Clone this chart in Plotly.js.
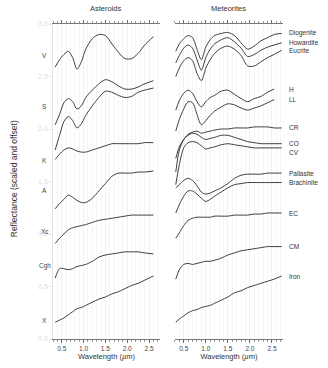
<!DOCTYPE html>
<html>
<head>
<meta charset="utf-8">
<script src="https://cdn.plot.ly/plotly-3.0.1.min.js"></script>
<style>
  html, body { margin: 0; padding: 0; background: #fff; }
  #plot { width: 328px; height: 368px; }
</style>
</head>
<body>
<div id="plot"></div>
<script>
// Wavelength grids (micron) for each panel
const asteroidWavelength = [0.35, 0.45, 0.55, 0.65, 0.75, 0.85, 0.95, 1.05, 1.2, 1.35, 1.5, 1.65, 1.8, 1.95, 2.1, 2.25, 2.4, 2.6];
const meteoriteWavelength = [0.32, 0.4, 0.5, 0.6, 0.7, 0.8, 0.9, 1.0, 1.1, 1.2, 1.35, 1.5, 1.65, 1.8, 1.95, 2.1, 2.25, 2.4, 2.55, 2.72];

// Asteroid spectra (scaled and offset)
const vType = [2.59, 2.66, 2.71, 2.74, 2.68, 2.57, 2.64, 2.76, 2.86, 2.90, 2.89, 2.81, 2.73, 2.67, 2.67, 2.72, 2.80, 2.88];
const sTypeUpper = [2.04, 2.14, 2.25, 2.29, 2.26, 2.19, 2.22, 2.30, 2.37, 2.43, 2.47, 2.45, 2.41, 2.38, 2.38, 2.40, 2.43, 2.46];
const sTypeLower = [1.80, 1.94, 2.07, 2.12, 2.08, 2.01, 2.05, 2.13, 2.22, 2.30, 2.36, 2.35, 2.32, 2.30, 2.31, 2.35, 2.37, 2.39];
const kType = [1.71, 1.76, 1.80, 1.82, 1.81, 1.79, 1.78, 1.78, 1.80, 1.82, 1.84, 1.86, 1.86, 1.86, 1.86, 1.86, 1.87, 1.87];
const aType = [1.24, 1.29, 1.33, 1.37, 1.35, 1.32, 1.30, 1.30, 1.34, 1.41, 1.48, 1.55, 1.58, 1.58, 1.58, 1.59, 1.59, 1.60];
const xcType = [0.91, 0.96, 1.00, 1.04, 1.06, 1.07, 1.08, 1.09, 1.11, 1.13, 1.14, 1.15, 1.16, 1.17, 1.18, 1.18, 1.18, 1.18];
const cghType = [0.58, 0.67, 0.67, 0.66, 0.67, 0.69, 0.70, 0.71, 0.74, 0.78, 0.80, 0.81, 0.82, 0.83, 0.83, 0.83, 0.82, 0.81];
const xType = [0.16, 0.18, 0.20, 0.23, 0.26, 0.29, 0.30, 0.32, 0.35, 0.38, 0.40, 0.43, 0.45, 0.48, 0.51, 0.53, 0.56, 0.60];

const asteroidSeries = [vType, sTypeUpper, sTypeLower, kType, aType, xcType, cghType, xType];
const asteroidLabels = ["V", "S", "K", "A", "Xc", "Cgh", "X"];
const asteroidLabelY = [2.70, 2.21, 1.70, 1.41, 1.02, 0.70, 0.18];

// Meteorite spectra (scaled and offset)
const diogenite = [2.74, 2.81, 2.86, 2.89, 2.87, 2.76, 2.66, 2.78, 2.85, 2.89, 2.91, 2.92, 2.89, 2.82, 2.76, 2.79, 2.84, 2.87, 2.90, 2.91];
const howardite = [2.63, 2.70, 2.77, 2.80, 2.77, 2.66, 2.56, 2.68, 2.76, 2.81, 2.85, 2.87, 2.83, 2.77, 2.69, 2.71, 2.75, 2.78, 2.80, 2.82];
const eucrite = [2.50, 2.58, 2.65, 2.68, 2.65, 2.53, 2.46, 2.58, 2.66, 2.72, 2.77, 2.79, 2.76, 2.70, 2.60, 2.60, 2.64, 2.68, 2.71, 2.75];
const hChondrite = [2.18, 2.27, 2.34, 2.37, 2.34, 2.26, 2.21, 2.26, 2.30, 2.32, 2.36, 2.37, 2.33, 2.29, 2.26, 2.29, 2.31, 2.35, 2.38, null];
const llChondrite = [1.98, 2.09, 2.19, 2.26, 2.25, 2.14, 2.04, 2.08, 2.13, 2.17, 2.21, 2.24, 2.23, 2.20, 2.18, 2.20, 2.22, 2.25, 2.28, null];
const crChondrite = [1.72, 1.83, 1.90, 1.95, 1.97, 1.98, 1.96, 1.97, 1.98, 1.99, 2.00, 2.00, 2.01, 2.01, 2.01, 2.02, 2.02, 2.02, 2.01, 2.01];
const coChondrite = [1.59, 1.80, 1.90, 1.94, 1.96, 1.95, 1.92, 1.90, 1.91, 1.92, 1.94, 1.94, 1.92, 1.90, 1.88, 1.87, 1.86, 1.86, 1.86, 1.86];
const cvChondrite = [1.47, 1.66, 1.82, 1.87, 1.88, 1.87, 1.84, 1.81, 1.82, 1.83, 1.85, 1.86, 1.85, 1.84, 1.83, 1.82, 1.82, 1.82, 1.82, 1.82];
const pallasite = [1.44, 1.47, 1.51, 1.53, 1.51, 1.46, 1.40, 1.38, 1.39, 1.41, 1.44, 1.48, 1.53, 1.56, 1.57, 1.57, 1.57, 1.58, 1.58, 1.58];
const brachinite = [1.20, 1.28, 1.36, 1.41, 1.41, 1.38, 1.34, 1.31, 1.33, 1.36, 1.40, 1.44, 1.47, 1.48, 1.49, 1.49, 1.49, 1.49, 1.49, 1.49];
const ecChondrite = [0.96, 1.01, 1.08, 1.13, 1.15, 1.16, 1.16, 1.16, 1.16, 1.17, 1.17, 1.17, 1.18, 1.18, 1.18, 1.19, 1.19, 1.20, 1.20, 1.20];
const cmChondrite = [0.57, 0.66, 0.71, 0.72, 0.71, 0.72, 0.73, 0.74, 0.74, 0.75, 0.77, 0.80, 0.82, 0.84, 0.85, 0.86, 0.87, 0.88, 0.88, 0.88];
const ironMeteorite = [0.16, 0.19, 0.22, 0.25, 0.27, 0.28, 0.30, 0.31, 0.32, 0.34, 0.37, 0.40, 0.44, 0.46, 0.49, 0.51, 0.53, 0.55, 0.57, 0.60];

const meteoriteSeries = [diogenite, howardite, eucrite, hChondrite, llChondrite, crChondrite, coChondrite, cvChondrite, pallasite, brachinite, ecChondrite, cmChondrite, ironMeteorite];
const meteoriteLabels = ["Diogenite", "Howardite", "Eucrite", "H", "LL", "CR", "CO", "CV", "Pallasite", "Brachinite", "EC", "CM", "Iron"];

const xTicks = [0.5, 1.0, 1.5, 2.0, 2.5];
const yTicks = [0.0, 0.5, 1.0, 1.5, 2.0, 2.5, 3.0];

const FONT = "Liberation Sans, Arial, sans-serif";
const lineStyle = { color: "#2a2a2a", width: 0.9, shape: "spline", smoothing: 0.8 };

let traces = [];
asteroidSeries.forEach(function(ys) {
  traces.push({ x: asteroidWavelength, y: ys, xaxis: "x", yaxis: "y", mode: "lines", line: lineStyle, hoverinfo: "skip" });
});
meteoriteSeries.forEach(function(ys) {
  traces.push({ x: meteoriteWavelength, y: ys, xaxis: "x2", yaxis: "y", mode: "lines", line: lineStyle, connectgaps: false, hoverinfo: "skip" });
});

// last drawn value of a series, used to place its right-hand label
function lastValue(ys) {
  for (let i = ys.length - 1; i >= 0; i--) {
    if (ys[i] !== null) return ys[i];
  }
  return null;
}

let annotations = [];
asteroidLabels.forEach(function(name, i) {
  annotations.push({
    text: name, xref: "paper", yref: "y", x: -0.035, y: asteroidLabelY[i],
    xanchor: "center", yanchor: "middle", showarrow: false,
    font: { family: FONT, size: 6.5, color: "#444" }
  });
});
meteoriteLabels.forEach(function(name, i) {
  annotations.push({
    text: name, xref: "paper", yref: "y", x: 1.017, y: lastValue(meteoriteSeries[i]),
    xanchor: "left", yanchor: "middle", showarrow: false,
    yshift: name === "CV" ? -5 : 0,
    font: { family: FONT, size: 6.5, color: "#333" }
  });
});
// panel titles
annotations.push({ text: "Asteroids", xref: "paper", yref: "paper", x: 0.2326, y: 1.05, xanchor: "center", yanchor: "middle", showarrow: false, font: { family: FONT, size: 7.5, color: "#333" } });
annotations.push({ text: "Meteorites", xref: "paper", yref: "paper", x: 0.765, y: 1.05, xanchor: "center", yanchor: "middle", showarrow: false, font: { family: FONT, size: 7.5, color: "#333" } });
// y axis title
annotations.push({ text: "Reflectance (scaled and offset)", xref: "paper", yref: "paper", x: -0.17, y: 0.51, textangle: -90, xanchor: "center", yanchor: "middle", showarrow: false, font: { family: FONT, size: 8.5, color: "#333" } });

function xAxis(domain) {
  return {
    domain: domain, range: [0.3, 2.75], anchor: "y",
    tickvals: xTicks, tickformat: ".1f",
    ticks: "outside", ticklen: 3.5, tickwidth: 0.8, tickcolor: "#555",
    showline: true, linecolor: "#555", linewidth: 0.8, mirror: "ticks",
    showgrid: true, gridcolor: "#eeeeee", gridwidth: 0.6, zeroline: false,
    minor: { dtick: 0.1, tick0: 0, ticks: "outside", ticklen: 2, tickcolor: "#555", tickwidth: 0.6, showgrid: true, gridcolor: "#eeeeee", gridwidth: 0.6 },
    tickfont: { family: FONT, size: 6.5, color: "#444" },
    title: { text: "Wavelength (<i>µ</i>m)", font: { family: FONT, size: 7.5, color: "#333" }, standoff: 2 }
  };
}

const layout = {
  width: 328, height: 368,
  margin: { l: 53, r: 45, t: 24, b: 29 },
  paper_bgcolor: "#fff", plot_bgcolor: "#fff",
  showlegend: false,
  font: { family: FONT },
  xaxis: xAxis([0, 0.465]),
  xaxis2: xAxis([0.53, 1]),
  yaxis: {
    range: [0, 3], anchor: "x", tickvals: yTicks, tickformat: ".1f",
    ticks: "outside", ticklen: 3, tickcolor: "#ddd", tickwidth: 0.8,
    showline: true, linecolor: "#ddd", linewidth: 0.8,
    showgrid: false, zeroline: false,
    tickfont: { family: FONT, size: 7, color: "#ddd" }
  },
  annotations: annotations
};

Plotly.newPlot("plot", traces, layout, { staticPlot: true, displayModeBar: false });
</script>
</body>
</html>
